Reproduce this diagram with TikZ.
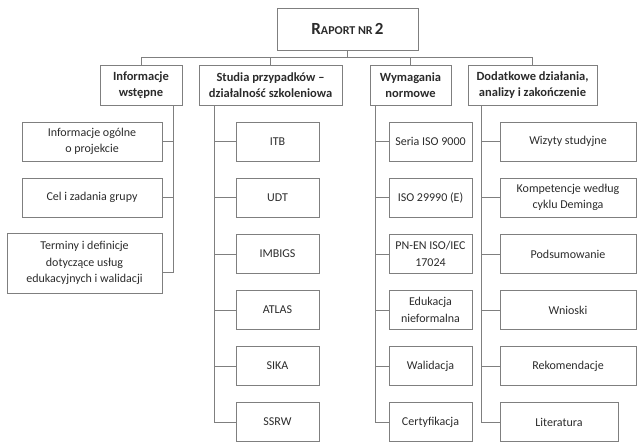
\documentclass[tikz,border=0pt]{standalone}
\usepackage{fontspec}
\setmainfont{Carlito}
\definecolor{ln}{HTML}{7F7F7F}
\definecolor{tx}{HTML}{2B2B2B}
\begin{document}
\begin{tikzpicture}[x=1pt,y=-1pt,
 box/.style={draw=ln,line width=0.9pt,align=center,text=tx,font=\fontsize{12}{16.5}\selectfont,inner sep=1pt,minimum height=39pt},
 head/.style={box,font=\bfseries\fontsize{12.5}{16}\selectfont,minimum height=40pt},
 leftbox/.style={box,minimum width=140pt},
 sbox/.style={box,minimum width=83pt},
 dbox/.style={box,minimum width=136pt},
 conn/.style={draw=ln,line width=0.9pt}]
\useasboundingbox (0,0) rectangle (637,443);
% top
\node[box,minimum width=141pt,minimum height=42pt,font=\bfseries] (top) at (347.5,29)
 {{\fontsize{17}{17}\selectfont R}{\fontsize{12}{17}\selectfont APORT NR} {\fontsize{17}{17}\selectfont 2}};
% level 1
\node[head,minimum width=82pt] (info) at (141,85) {Informacje\\wstępne};
\node[head,minimum width=143pt] (studia) at (270.5,85) {Studia przypadków –\\działalność szkoleniowa};
\node[head,minimum width=81pt] (wym) at (410.5,85) {Wymagania\\normowe};
\node[head,minimum width=129pt] (dod) at (532.5,85) {Dodatkowe działania,\\analizy i zakończenie};
\coordinate (bus) at (0,57);
\draw[conn] (info.north) -- (info.north |- bus) -| (dod.north);
\draw[conn] (studia.north) -- (studia.north |- bus);
\draw[conn] (wym.north) -- (wym.north |- bus);
\draw[conn] (top.south) -- (top.south |- bus);
% left column
\node[leftbox] (i1) at (92,141.5) {Informacje ogólne\\o projekcie};
\node[leftbox] (i2) at (92,197.5) {Cel i zadania grupy};
\node[box,minimum width=155pt,minimum height=60pt] (i3) at (84.5,263) {Terminy i definicje\\dotyczące usług\\edukacyjnych i walidacji};
\coordinate (s1) at ([xshift=32pt]info.south);
\draw[conn] (s1) |- ([yshift=-9pt]i3.east);
\draw[conn] (i1.east) -- (i1.east -| s1);
\draw[conn] (i2.east) -- (i2.east -| s1);
% studia column
\node[sbox] (a1) at (277.5,141.5) {ITB};
\node[sbox] (a2) at (277.5,197.5) {UDT};
\node[sbox] (a3) at (277.5,254) {IMBIGS};
\node[sbox] (a4) at (277.5,310) {ATLAS};
\node[sbox] (a5) at (277.5,366) {SIKA};
\node[sbox] (a6) at (277.5,422) {SSRW};
\coordinate (s2) at ([xshift=-56.5pt]studia.south);
\draw[conn] (s2) |- (a6.west);
\foreach \n in {a1,a2,a3,a4,a5} \draw[conn] (\n.west) -- (\n.west -| s2);
% wymagania column
\node[sbox] (b1) at (430.5,141.5) {Seria ISO 9000};
\node[sbox] (b2) at (430.5,197.5) {ISO 29990 (E)};
\node[sbox] (b3) at (430.5,254) {PN-EN ISO/IEC\\17024};
\node[sbox] (b4) at (430.5,310) {Edukacja\\nieformalna};
\node[sbox] (b5) at (430.5,366) {Walidacja};
\node[sbox] (b6) at (430.5,422) {Certyfikacja};
\coordinate (s3) at ([xshift=-35.5pt]wym.south);
\draw[conn] (s3) |- (b6.west);
\foreach \n in {b1,b2,b3,b4,b5} \draw[conn] (\n.west) -- (\n.west -| s3);
% dodatkowe column
\node[dbox] (d1) at (568,141.5) {Wizyty studyjne};
\node[dbox] (d2) at (568,197.5) {Kompetencje według\\cyklu Deminga};
\node[dbox] (d3) at (568,254) {Podsumowanie};
\node[dbox] (d4) at (568,310) {Wnioski};
\node[dbox] (d5) at (568,366) {Rekomendacje};
\node[box,minimum width=118pt] (d6) at (559,422) {Literatura};
\coordinate (s4) at ([xshift=-51.5pt]dod.south);
\draw[conn] (s4) |- (d6.west);
\foreach \n in {d1,d2,d3,d4,d5} \draw[conn] (\n.west) -- (\n.west -| s4);
\end{tikzpicture}
\end{document}
